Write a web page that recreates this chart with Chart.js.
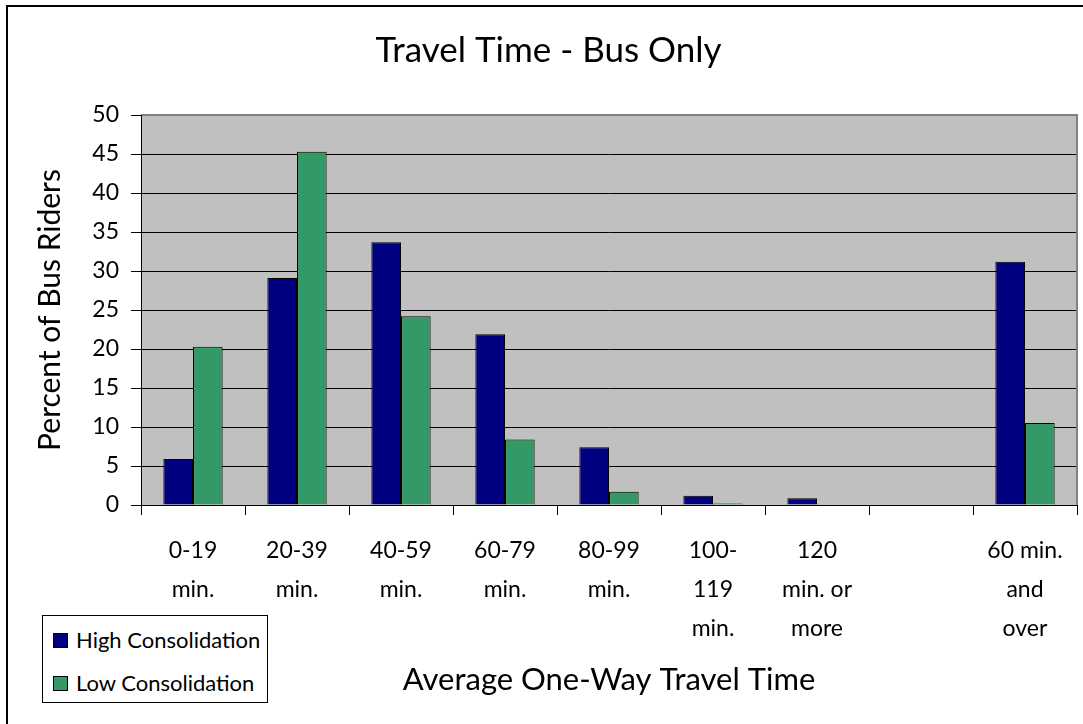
<!DOCTYPE html>
<html>
<head>
<meta charset="utf-8">
<script src="https://cdn.jsdelivr.net/npm/chart.js@4"></script>
<style>
  html, body { margin: 0; padding: 0; background: #fff; }
  #wrap { position: relative; width: 1083px; height: 724px; overflow: hidden; }
  #frame { position: absolute; left: 6px; top: 5px; width: 1100px; height: 740px;
           border-left: 2px solid #000; border-top: 2px solid #000; box-sizing: border-box; pointer-events: none; }
  canvas { position: absolute; left: 0; top: 0; }
  #legend { position: absolute; left: 42px; top: 615px; width: 226px; height: 88px; box-sizing: border-box;
            border: 1px solid #000; background: #fff; font-family: Lato, sans-serif; font-size: 22px; color: #000; }
  .item { position: absolute; left: 10px; display: flex; align-items: center; white-space: nowrap; line-height: 24px; }
  .sw { width: 13px; height: 13px; border: 1px solid #000; margin-right: 8px; }
</style>
</head>
<body>
<div id="wrap">
  <canvas id="c" width="1083" height="724"></canvas>
  <div id="frame"></div>
  <div id="legend"></div>
</div>
<script>
const categories = [
  ["0-19", "min."],
  ["20-39", "min."],
  ["40-59", "min."],
  ["60-79", "min."],
  ["80-99", "min."],
  ["100-", "119", "min."],
  ["120", "min. or", "more"],
  [""],
  ["60 min.", "and", "over"]
];
const seriesNames = ["High Consolidation", "Low Consolidation"];
const highConsolidation = [5.9, 29.1, 33.7, 21.9, 7.4, 1.2, 0.85, null, 31.2];
const lowConsolidation  = [20.3, 45.3, 24.2, 8.4, 1.7, 0.2, 0, null, 10.5];
const seriesColors = ["#000080", "#339966"];
const yTicks = [0, 5, 10, 15, 20, 25, 30, 35, 40, 45, 50];

const FONT = "Lato, 'Open Sans', sans-serif";

const plotBg = {
  id: 'plotBg',
  beforeDraw(chart) {
    const {ctx, chartArea: a} = chart;
    ctx.save();
    ctx.fillStyle = '#C0C0C0';
    ctx.fillRect(a.left, a.top, a.right - a.left, a.bottom - a.top);
    ctx.restore();
  },
  afterDatasetsDraw(chart) {
    const {ctx, chartArea: a} = chart;
    ctx.save();
    ctx.strokeStyle = '#808080';
    ctx.lineWidth = 2;
    ctx.beginPath();
    ctx.moveTo(a.left, a.top);
    ctx.lineTo(a.right, a.top);
    ctx.lineTo(a.right, a.bottom);
    ctx.stroke();
    ctx.strokeStyle = '#000';
    ctx.lineWidth = 1;
    ctx.beginPath();
    ctx.moveTo(a.left + 0.5, a.top);
    ctx.lineTo(a.left + 0.5, a.bottom + 0.5);
    ctx.lineTo(a.right, a.bottom + 0.5);
    ctx.stroke();
    ctx.restore();
  }
};

const chart = new Chart(document.getElementById('c'), {
  type: 'bar',
  data: {
    labels: categories,
    datasets: [
      { label: seriesNames[0], data: highConsolidation, backgroundColor: seriesColors[0],
        borderColor: '#000', borderWidth: 1, categoryPercentage: 0.57, barPercentage: 1 },
      { label: seriesNames[1], data: lowConsolidation, backgroundColor: seriesColors[1],
        borderColor: '#000', borderWidth: 1, categoryPercentage: 0.57, barPercentage: 1 }
    ]
  },
  options: {
    responsive: false,
    animation: false,
    devicePixelRatio: 1,
    layout: { padding: { left: 20, right: 6, top: 0, bottom: 0 } },
    plugins: {
      legend: { display: false },
      tooltip: { enabled: false },
      title: {
        display: true,
        text: 'Travel Time - Bus Only',
        color: '#000',
        font: { family: FONT, size: 35, weight: 'normal', lineHeight: 1.2 },
        padding: { top: 30, bottom: 43 }
      }
    },
    scales: {
      x: {
        offset: true,
        grid: { display: true, drawOnChartArea: false, drawTicks: true, tickLength: 10, color: '#000', offset: true },
        border: { display: true, color: '#000' },
        ticks: { color: '#000', font: { family: FONT, size: 23, lineHeight: 1.7 }, padding: 16, maxRotation: 0, autoSkip: false },
        title: {
          display: true, text: 'Average One-Way Travel Time', color: '#000',
          font: { family: FONT, size: 31, weight: 'normal', lineHeight: 1.2 },
          padding: { top: 0, bottom: 25 }
        },
        afterFit(s) { s.height = 219; }
      },
      y: {
        min: 0, max: 50,
        afterBuildTicks(s) { s.ticks = yTicks.map(v => ({ value: v })); },
        grid: { color: '#000', drawTicks: true, tickLength: 10 },
        border: { display: true, color: '#000' },
        ticks: { color: '#000', font: { family: FONT, size: 23 }, padding: 12 },
        title: {
          display: true, text: 'Percent of Bus Riders', color: '#000',
          font: { family: FONT, size: 30, weight: 'normal', lineHeight: 1.2 },
          padding: { top: 12, bottom: 0 }
        },
        afterFit(s) { s.width = 121; }
      }
    }
  },
  plugins: [plotBg]
});

// legend built from the datasets
const leg = document.getElementById('legend');
chart.data.datasets.forEach((ds, i) => {
  const d = document.createElement('div');
  d.className = 'item';
  d.style.top = (i === 0 ? 12 : 55) + 'px';
  d.innerHTML = '<span class="sw" style="background:' + ds.backgroundColor + '"></span>' + ds.label;
  leg.appendChild(d);
});
</script>
</body>
</html>
